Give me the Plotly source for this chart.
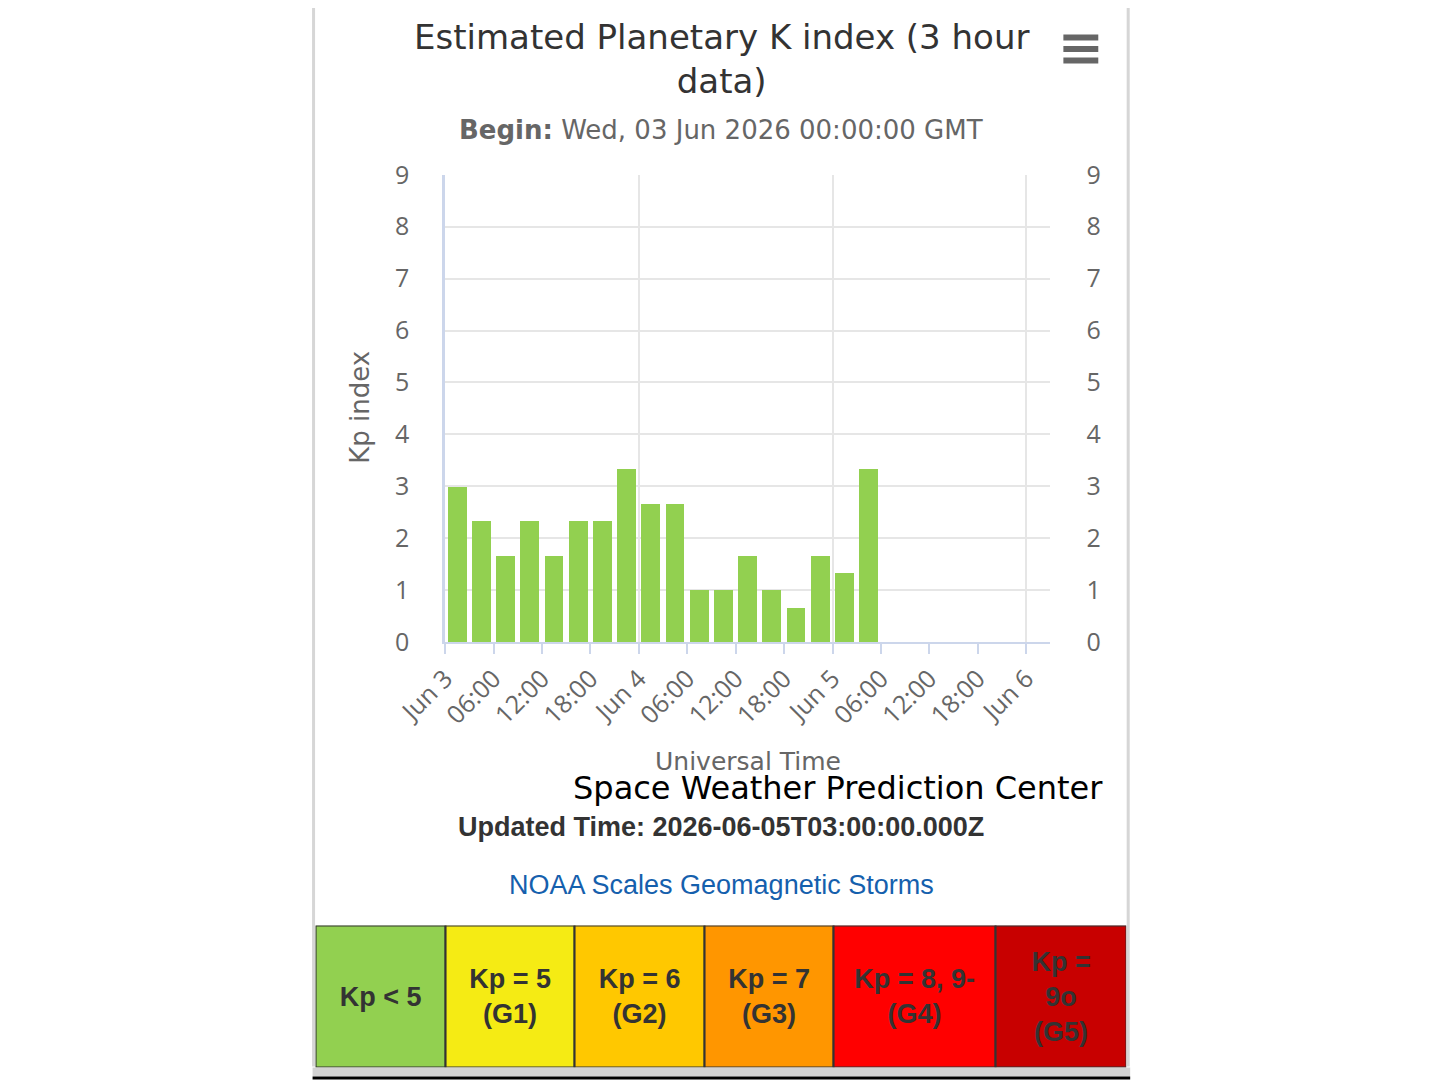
import numpy as np
import pandas as pd
import plotly.graph_objects as go

# Estimated planetary Kp, 3 hour slots starting Jun 3 2026 00:00 UTC
slot_start = pd.date_range("2026-06-03 00:00", periods=18, freq="3h")
kp_values = [3.0, 2.33, 1.67, 2.33, 1.67, 2.33, 2.33, 3.33, 2.67,
             2.67, 1.0, 1.0, 1.67, 1.0, 0.67, 1.67, 1.33, 3.33]

# x axis ticks every 6 hours
tick_times = pd.date_range("2026-06-03 00:00", "2026-06-06 00:00", freq="6h")
tick_labels = ["Jun 3", "06:00", "12:00", "18:00", "Jun 4", "06:00", "12:00",
               "18:00", "Jun 5", "06:00", "12:00", "18:00", "Jun 6"]

# NOAA geomagnetic storm scale row
scale_labels = ["Kp < 5", "Kp = 5<br>(G1)", "Kp = 6<br>(G2)", "Kp = 7<br>(G3)",
                "Kp = 8, 9-<br>(G4)", "Kp =<br>9o<br>(G5)"]
scale_colors = ["#92d050", "#f5eb14", "#ffc800", "#ff9600", "#ff0000", "#c80000"]
scale_widths = [130, 130, 130, 130, 162, 131]

W, H = 1440, 1080
SLOT_MS = 3 * 3600 * 1000

# the page comes out slightly shrunk and offset in the screenshot,
# so target positions (screen px) are mapped back to figure px here
SX, SY, OX, OY = 0.966, 0.970, 57.7, 26.0


def px(x):
    return (x - OX) / SX / W


def py(y):
    return 1 - (y - OY) / SY / H


fig = go.Figure()

fig.add_trace(go.Bar(
    x=slot_start, y=kp_values,
    xperiod=SLOT_MS, xperiodalignment="middle",
    width=SLOT_MS * 0.78,
    marker=dict(color="#92d050", line=dict(width=0)),
    xaxis="x", yaxis="y", showlegend=False, hoverinfo="x+y"))

# dummy trace so the overlay axes (day grid + right labels) are drawn
fig.add_trace(go.Scatter(
    x=slot_start, y=kp_values, mode="none", xaxis="x3", yaxis="y2",
    showlegend=False, hoverinfo="skip"))

# scale row as a horizontal bar split into cells
fig.add_trace(go.Bar(
    y=["scale"] * len(scale_widths), x=scale_widths,
    base=np.cumsum([0] + scale_widths[:-1]),
    orientation="h", width=1,
    marker=dict(color=scale_colors, line=dict(color="#333333", width=2)),
    text=["<b>%s</b>" % t for t in scale_labels],
    textposition="inside", insidetextanchor="middle", textangle=0,
    constraintext="none",
    insidetextfont=dict(family="Liberation Sans", size=27, color="#333333"),
    xaxis="x2", yaxis="y3", showlegend=False, hoverinfo="skip"))

tick_font = dict(family="Open Sans", size=25, color="#666666")

fig.update_layout(
    width=W, height=H,
    margin=dict(l=0, r=0, t=0, b=0),
    paper_bgcolor="white", plot_bgcolor="rgba(0,0,0,0)",
    bargap=0,
    xaxis=dict(
        domain=[px(443), px(1050)],
        anchor="y",
        range=["2026-06-03 00:00", "2026-06-06 03:00"],
        tickvals=tick_times, ticktext=tick_labels, tickangle=-45,
        tickfont=tick_font,
        ticks="outside", ticklen=10, tickwidth=2, tickcolor="#ccd6eb",
        showgrid=False, showline=True, linecolor="#ccd6eb", linewidth=2,
        zeroline=False, fixedrange=True),
    xaxis3=dict(
        overlaying="x", matches="x", anchor="y2",
        tick0="2026-06-03", dtick=86400000,
        showticklabels=False, ticks="",
        showgrid=True, gridcolor="#e6e6e6", gridwidth=2,
        showline=False, zeroline=False),
    yaxis=dict(
        domain=[py(643), py(175)],
        anchor="x",
        range=[0, 9], dtick=1,
        tickfont=tick_font, ticklabelstandoff=28,
        showgrid=True, gridcolor="#e6e6e6", gridwidth=2,
        showline=True, linecolor="#ccd6eb", linewidth=3,
        zeroline=False, fixedrange=True),
    yaxis2=dict(
        overlaying="y", matches="y", side="right", anchor="x3",
        dtick=1, tickfont=tick_font, ticklabelstandoff=35,
        showgrid=False, showline=False, zeroline=False),
    xaxis2=dict(
        domain=[px(313), px(1126)], anchor="y3",
        range=[0, sum(scale_widths)],
        visible=False, fixedrange=True),
    yaxis3=dict(
        domain=[py(1069), py(927)], anchor="x2",
        range=[-0.5, 0.5], visible=False, fixedrange=True),
)

annotations = [
    dict(text="Estimated Planetary K index (3 hour<br>data)",
         x=px(720), y=py(59), font=dict(family="DejaVu Sans", size=34, color="#333333")),
    dict(text="<b>Begin:</b> Wed, 03 Jun 2026 00:00:00 GMT",
         x=px(720), y=py(130), font=dict(family="DejaVu Sans", size=26, color="#666666")),
    dict(text="Kp index", textangle=-90,
         x=px(358), y=py(408), font=dict(family="DejaVu Sans", size=26, color="#666666")),
    dict(text="Universal Time",
         x=px(747), y=py(763), font=dict(family="DejaVu Sans", size=25, color="#666666")),
    dict(text="Space Weather Prediction Center", xanchor="right",
         x=px(1105), y=py(789), font=dict(family="DejaVu Sans", size=32, color="#000000")),
    dict(text="<b>Updated Time: 2026-06-05T03:00:00.000Z</b>",
         x=px(720), y=py(828), font=dict(family="Liberation Sans", size=27, color="#333333")),
    dict(text="NOAA Scales Geomagnetic Storms",
         x=px(720), y=py(886), font=dict(family="Liberation Sans", size=27, color="#1560ad")),
]
for a in annotations:
    a.setdefault("xanchor", "center")
    a.update(xref="paper", yref="paper", yanchor="middle", showarrow=False)
fig.update_layout(annotations=annotations)

# page frame, bottom band and export menu icon
shapes = [
    dict(type="line", x0=px(311), x1=px(311), y0=1.2, y1=py(1068),
         line=dict(color="#d6d6d6", width=3)),
    dict(type="line", x0=px(1128), x1=px(1128), y0=1.2, y1=py(1068),
         line=dict(color="#d6d6d6", width=3)),
    dict(type="rect", x0=px(310), x1=px(1130), y0=py(1078), y1=py(1069),
         fillcolor="#d3d3d3", line=dict(width=0)),
    dict(type="rect", x0=px(310), x1=px(1130), y0=py(1081), y1=py(1078),
         fillcolor="#000000", line=dict(width=0)),
]
for yy in (37.5, 49, 60.5):
    shapes.append(dict(type="line", x0=px(1063), x1=px(1098), y0=py(yy), y1=py(yy),
                       line=dict(color="#666666", width=6)))
for s in shapes:
    s.update(xref="paper", yref="paper")
fig.update_layout(shapes=shapes)

fig.write_html("out.html")
